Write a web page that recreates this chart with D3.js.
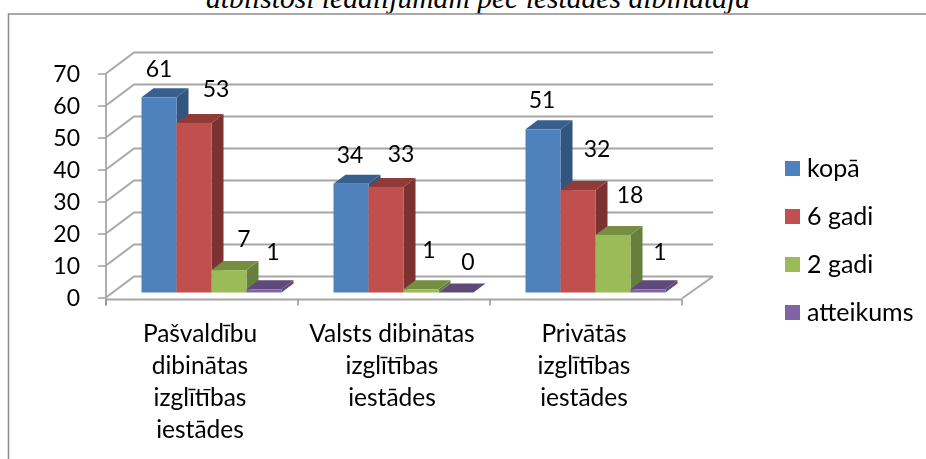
<!DOCTYPE html>
<html>
<head>
<meta charset="utf-8">
<script src="https://cdn.jsdelivr.net/npm/d3@7"></script>
<style>
body { margin: 0; background: #fff; overflow: hidden; }
text { font-family: Lato, sans-serif; fill: #000; }
.title { font-family: "Liberation Serif", serif; font-style: italic; font-size: 29.6px; }
.axis .domain { display: none; }
.axis line { stroke: #a6a6a6; stroke-width: 1.6; }
</style>
</head>
<body>
<div class="chart"></div>
<script>
// data ------
const categories = [
  ["Pašvaldību", "dibinātas", "izglītības", "iestādes"],
  ["Valsts dibinātas", "izglītības", "iestādes"],
  ["Privātās", "izglītības", "iestādes"]
];
const seriesNames = ["kopā", "6 gadi", "2 gadi", "atteikums"];
const kopa = [61, 34, 51];
const sesiGadi = [53, 33, 32];
const diviGadi = [7, 1, 18];
const atteikums = [1, 0, 1];
const seriesValues = [kopa, sesiGadi, diviGadi, atteikums];
const yTicks = [0, 10, 20, 30, 40, 50, 60, 70];
const titleText = "atbilstoši iedalījumam pēc iestādes dibinātāja";

// colours per series: front, top, side
const colors = [
  ["#4f81bd", "#39608f", "#325580"],
  ["#c0504d", "#8f3b39", "#7d3331"],
  ["#9bbb59", "#758e43", "#66803a"],
  ["#8064a2", "#5f4a79", "#5f4a79"]
];

// Excel placed these labels by hand, so they are nudged from the bar top [dx, dy]
const labelNudge = [
  [[0, -29], [22, -34], [15, -31], [9, -38]],
  [[-1, -29], [15, -33], [8, -40], [12, -31]],
  [[-1, -30], [19, -41], [17, -40], [12, -38]]
];

//Chart INIT------
const width = 926, height = 459;
const depth = {wall: [28, -21], bar: [12, -9]};
const floorLift = 5; // bars stand a bit above the front axis line

const svg = d3.select(".chart").append("svg")
  .attr("width", width)
  .attr("height", height);

svg.append("defs").append("filter")
  .attr("id", "soft")
  .append("feGaussianBlur")
  .attr("stdDeviation", 0.45);

// the title is cut by the top edge in the reference too
svg.append("text")
  .attr("class", "title")
  .attr("x", 478)
  .attr("y", 8)
  .attr("text-anchor", "middle")
  .text(titleText);

// frame of the pasted picture
svg.append("path")
  .attr("d", "M8.5,459V14H926")
  .attr("fill", "none")
  .attr("stroke", "#8c8c8c")
  .attr("stroke-width", 1.5);

const chart = svg.append("g").attr("filter", "url(#soft)");

const xScale = d3.scaleBand()
  .domain(d3.range(categories.length))
  .range([106, 682]);

const barScale = d3.scaleBand()
  .domain(d3.range(seriesNames.length))
  .range([35.5, 175.5]);

const yScale = d3.scaleLinear()
  .domain([0, 70])
  .range([297.5, 73.5]);

// walls
const walls = chart.append("g");
yTicks.forEach(t => {
  const yFront = yScale(t), yBack = yFront + depth.wall[1];
  walls.append("path")
    .attr("d", `M${xScale.range()[0]},${yFront}L${xScale.range()[0] + depth.wall[0]},${yBack}H${xScale.range()[1] + depth.wall[0] + 3}`)
    .attr("fill", "none")
    .attr("stroke", "#a6a6a6")
    .attr("stroke-width", 1.8);
});

// floor edge on the right
walls.append("line")
  .attr("x1", xScale.range()[1])
  .attr("y1", yScale(0) + 1)
  .attr("x2", xScale.range()[1] + depth.wall[0] + 3)
  .attr("y2", yScale(0) + depth.wall[1])
  .attr("stroke", "#a6a6a6")
  .attr("stroke-width", 1.8);

const yAxis = d3.axisLeft(yScale).tickValues(yTicks).tickSize(8).tickFormat("");
chart.append("g")
  .attr("class", "axis")
  .attr("transform", "translate(106,0)")
  .call(yAxis);

chart.append("line")
  .attr("x1", 106).attr("x2", 106)
  .attr("y1", yScale(70)).attr("y2", yScale(0) + 8)
  .attr("stroke", "#a6a6a6").attr("stroke-width", 1.8);

chart.append("line")
  .attr("x1", xScale.range()[0]).attr("x2", xScale.range()[1])
  .attr("y1", yScale(0) + 2).attr("y2", yScale(0) + 2)
  .attr("stroke", "#a6a6a6").attr("stroke-width", 2);

// category ticks sit on the band edges
const edges = categories.map((d, i) => xScale(i)).concat(xScale.range()[1]);
chart.selectAll(".cat-tick")
  .data(edges)
  .join("line")
  .attr("class", "cat-tick")
  .attr("x1", d => d).attr("x2", d => d)
  .attr("y1", yScale(0) + 2).attr("y2", yScale(0) + 8)
  .attr("stroke", "#8c8c8c").attr("stroke-width", 1.4);

// bars, left to right so each one covers the side of the previous one
const barData = categories.flatMap((c, i) =>
  seriesNames.map((s, j) => ({cat: i, ser: j, value: seriesValues[j][i]})));

const bars = chart.selectAll(".bar")
  .data(barData)
  .join("g")
  .attr("class", "bar");

const x0 = d => xScale(d.cat) + barScale(d.ser);
const x1 = d => x0(d) + barScale.bandwidth();
const yTop = d => yScale(d.value) - floorLift;
const yBase = yScale(0) - floorLift;

bars.append("path") // side
  .attr("d", d => `M${x1(d)},${yTop(d)}l${depth.bar[0]},${depth.bar[1]}V${yBase + depth.bar[1]}l${-depth.bar[0]},${-depth.bar[1]}Z`)
  .attr("fill", d => colors[d.ser][2]);

bars.append("path") // top
  .attr("d", d => `M${x0(d)},${yTop(d)}l${depth.bar[0]},${depth.bar[1]}H${x1(d) + depth.bar[0]}l${-depth.bar[0]},${-depth.bar[1]}Z`)
  .attr("fill", d => colors[d.ser][1]);

bars.append("rect") // front
  .attr("x", x0)
  .attr("y", yTop)
  .attr("width", barScale.bandwidth())
  .attr("height", d => yBase - yTop(d))
  .attr("fill", d => colors[d.ser][0]);

// value labels
chart.selectAll(".value-label")
  .data(barData)
  .join("text")
  .attr("class", "value-label")
  .attr("x", d => x0(d) + barScale.bandwidth() / 2 + labelNudge[d.cat][d.ser][0])
  .attr("y", d => yTop(d) + labelNudge[d.cat][d.ser][1])
  .attr("dy", "0.36em")
  .attr("text-anchor", "middle")
  .style("font-size", "23px")
  .text(d => d.value);

// y tick labels
chart.selectAll(".y-label")
  .data(yTicks)
  .join("text")
  .attr("class", "y-label")
  .attr("x", 80)
  .attr("y", d => yScale(d))
  .attr("dy", "0.36em")
  .attr("text-anchor", "end")
  .style("font-size", "23px")
  .text(d => d);

// category labels
const catLabels = chart.selectAll(".cat-label")
  .data(categories)
  .join("text")
  .attr("class", "cat-label")
  .attr("text-anchor", "middle")
  .style("font-size", "24.5px");

catLabels.selectAll("tspan")
  .data((d, i) => d.map((line, k) => ({line, k, i})))
  .join("tspan")
  .attr("x", d => xScale(d.i) + xScale.bandwidth() / 2 - 2)
  .attr("y", d => 342 + d.k * 32)
  .text(d => d.line);

// legend
const legend = chart.selectAll(".legend")
  .data(seriesNames)
  .join("g")
  .attr("class", "legend")
  .attr("transform", (d, i) => `translate(785,${161 + i * 48})`);

legend.append("rect")
  .attr("width", 15)
  .attr("height", 15)
  .attr("fill", (d, i) => colors[i][0]);

legend.append("text")
  .attr("x", 22)
  .attr("y", 16)
  .style("font-size", "25px")
  .text(d => d);
</script>
</body>
</html>
